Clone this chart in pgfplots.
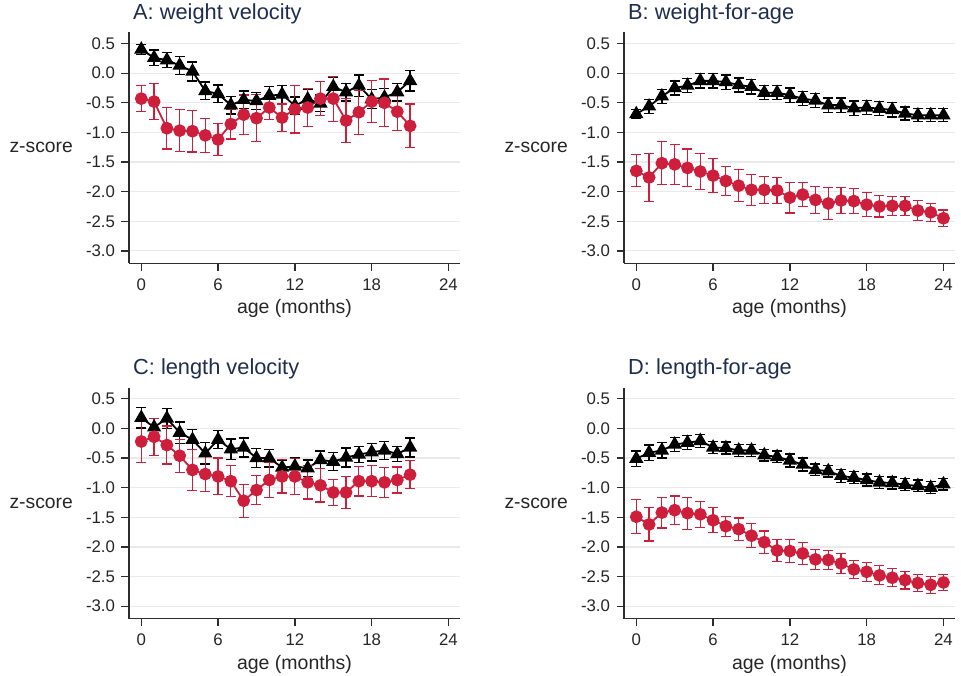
\documentclass[border=0pt]{standalone}
\usepackage{fontspec}
\setmainfont{Liberation Sans}
\usepackage{pgfplots}
\usepackage{pgfplotstable}
\pgfplotsset{compat=1.18}

\definecolor{titlenavy}{RGB}{30,45,80}
\definecolor{zred}{RGB}{205,30,60}
\definecolor{gridgray}{RGB}{234,234,234}
\definecolor{axisgray}{RGB}{45,45,45}

% columns: age, reference-group mean and CI half-width, study-group mean and CI half-width
\pgfplotstableread{
x bm be rm re
0 0.40 0.08 -0.43 0.22
1 0.26 0.13 -0.48 0.30
2 0.22 0.13 -0.93 0.35
3 0.13 0.15 -0.97 0.35
4 0.03 0.16 -0.98 0.35
5 -0.30 0.15 -1.05 0.29
6 -0.35 0.15 -1.12 0.27
7 -0.54 0.15 -0.86 0.25
8 -0.45 0.15 -0.70 0.33
9 -0.47 0.14 -0.76 0.40
10 -0.38 0.15 -0.58 0.20
11 -0.36 0.15 -0.75 0.23
12 -0.55 0.15 -0.61 0.40
13 -0.44 0.16 -0.58 0.32
14 -0.51 0.14 -0.43 0.29
15 -0.23 0.16 -0.43 0.38
16 -0.32 0.15 -0.80 0.37
17 -0.21 0.18 -0.66 0.37
18 -0.44 0.16 -0.48 0.35
19 -0.41 0.15 -0.50 0.40
20 -0.32 0.15 -0.65 0.32
21 -0.13 0.17 -0.89 0.37
}\tabA

\pgfplotstableread{
x bm be rm re
0 -0.69 0.08 -1.65 0.27
1 -0.56 0.12 -1.76 0.41
2 -0.39 0.12 -1.52 0.36
3 -0.25 0.12 -1.54 0.34
4 -0.21 0.12 -1.60 0.32
5 -0.13 0.12 -1.66 0.30
6 -0.13 0.12 -1.73 0.29
7 -0.15 0.12 -1.82 0.25
8 -0.20 0.12 -1.90 0.27
9 -0.23 0.12 -1.97 0.26
10 -0.33 0.12 -1.97 0.23
11 -0.33 0.12 -1.98 0.22
12 -0.37 0.12 -2.10 0.26
13 -0.43 0.12 -2.05 0.20
14 -0.46 0.12 -2.14 0.23
15 -0.54 0.12 -2.20 0.27
16 -0.54 0.12 -2.15 0.22
17 -0.59 0.12 -2.16 0.21
18 -0.58 0.12 -2.22 0.20
19 -0.60 0.12 -2.25 0.18
20 -0.62 0.12 -2.24 0.16
21 -0.68 0.11 -2.24 0.16
22 -0.71 0.11 -2.32 0.17
23 -0.71 0.11 -2.35 0.15
24 -0.71 0.11 -2.45 0.14
}\tabB

\pgfplotstableread{
x bm be rm re
0 0.18 0.17 -0.22 0.35
1 0.02 0.15 -0.14 0.31
2 0.17 0.17 -0.28 0.32
3 -0.07 0.18 -0.46 0.28
4 -0.19 0.17 -0.70 0.35
5 -0.42 0.18 -0.77 0.30
6 -0.19 0.15 -0.81 0.31
7 -0.35 0.17 -0.89 0.26
8 -0.32 0.16 -1.22 0.28
9 -0.50 0.16 -1.04 0.25
10 -0.50 0.15 -0.87 0.29
11 -0.66 0.13 -0.81 0.28
12 -0.64 0.14 -0.81 0.30
13 -0.67 0.14 -0.91 0.28
14 -0.53 0.15 -0.96 0.28
15 -0.56 0.15 -1.08 0.22
16 -0.49 0.16 -1.08 0.27
17 -0.44 0.14 -0.89 0.25
18 -0.40 0.15 -0.89 0.26
19 -0.37 0.15 -0.91 0.25
20 -0.43 0.13 -0.87 0.22
21 -0.32 0.16 -0.78 0.24
}\tabC

\pgfplotstableread{
x bm be rm re
0 -0.51 0.13 -1.49 0.29
1 -0.41 0.13 -1.62 0.28
2 -0.37 0.13 -1.42 0.26
3 -0.27 0.12 -1.38 0.24
4 -0.24 0.12 -1.43 0.27
5 -0.21 0.11 -1.45 0.22
6 -0.32 0.10 -1.55 0.21
7 -0.33 0.10 -1.65 0.17
8 -0.37 0.10 -1.70 0.19
9 -0.37 0.10 -1.81 0.20
10 -0.45 0.10 -1.92 0.19
11 -0.48 0.10 -2.06 0.18
12 -0.54 0.11 -2.07 0.19
13 -0.61 0.11 -2.11 0.18
14 -0.70 0.10 -2.21 0.17
15 -0.72 0.10 -2.22 0.16
16 -0.80 0.11 -2.28 0.17
17 -0.83 0.10 -2.38 0.15
18 -0.87 0.10 -2.42 0.16
19 -0.91 0.10 -2.48 0.16
20 -0.92 0.10 -2.52 0.15
21 -0.95 0.10 -2.56 0.15
22 -0.97 0.10 -2.61 0.14
23 -1.00 0.10 -2.64 0.14
24 -0.94 0.10 -2.60 0.14
}\tabD

\pgfplotsset{
  panel/.style={
    scale only axis, width=331pt, height=231pt, anchor=south west,
    xmin=-0.96, xmax=24.9, ymin=-3.21, ymax=0.69,
    axis x line*=bottom, axis y line*=left,
    axis line style={axisgray, line width=1.3pt},
    xtick={0,6,12,18,24},
    xticklabels={0,6,12,18,24},
    ytick={-3,-2.5,-2,-1.5,-1,-0.5,0,0.5},
    yticklabels={-3.0,-2.5,-2.0,-1.5,-1.0,-0.5,0.0,0.5},
    tick align=outside, major tick length=7.5pt,
    tick style={axisgray, line width=1.3pt},
    ymajorgrids, grid style={gridgray, line width=1.2pt},
    tick label style={font=\fontsize{16.8}{18}\selectfont, text=black!85},
    xticklabel style={yshift=-4pt},
    yticklabel style={xshift=-3pt},
    xlabel={age (months)},
    xlabel style={font=\fontsize{19.5}{21}\selectfont, text=black!85,
      at={(axis description cs:0.5,0)}, anchor=base, yshift=-50.5pt},
    title style={font=\fontsize{21.8}{24}\selectfont, text=titlenavy,
      at={(axis description cs:0,1)}, anchor=base west, inner sep=0pt,
      xshift=4pt, yshift=7pt},
    clip=false,
    after end axis/.code={
      \node[anchor=east, inner sep=0pt, text=black!85,
        font=\fontsize{19.3}{21}\selectfont]
        at ([xshift=-56pt]rel axis cs:0,0.5) {z-score};
    },
  },
  refgroup/.style={black, line width=1.8pt, mark=triangle*, mark size=6.5pt,
    mark options={solid, fill=black},
    error bars/.cd, y dir=both, y explicit,
    error bar style={black, line width=1.3pt},
    error mark options={rotate=90, black, line width=1.3pt, mark size=5pt}},
  studygroup/.style={zred, line width=1.8pt, mark=*, mark size=5.5pt,
    mark options={solid, fill=zred, draw=zred},
    error bars/.cd, y dir=both, y explicit,
    error bar style={zred, line width=1.2pt},
    error mark options={rotate=90, zred, line width=1.2pt, mark size=5pt}},
}

\begin{document}
\begin{tikzpicture}[x=1pt, y=1pt]
\path[use as bounding box] (0,0) rectangle (961,676);

\begin{axis}[panel, at={(129pt,412.7pt)}, title={A: weight velocity}]
  \addplot[refgroup] table[x=x, y=bm, y error=be] {\tabA};
  \addplot[studygroup] table[x=x, y=rm, y error=re] {\tabA};
\end{axis}

\begin{axis}[panel, at={(624pt,412.7pt)}, title={B: weight-for-age}]
  \addplot[refgroup] table[x=x, y=bm, y error=be] {\tabB};
  \addplot[studygroup] table[x=x, y=rm, y error=re] {\tabB};
\end{axis}

\begin{axis}[panel, at={(129pt,57.4pt)}, title={C: length velocity}]
  \addplot[refgroup] table[x=x, y=bm, y error=be] {\tabC};
  \addplot[studygroup] table[x=x, y=rm, y error=re] {\tabC};
\end{axis}

\begin{axis}[panel, at={(624pt,57.4pt)}, title={D: length-for-age}]
  \addplot[refgroup] table[x=x, y=bm, y error=be] {\tabD};
  \addplot[studygroup] table[x=x, y=rm, y error=re] {\tabD};
\end{axis}
\end{tikzpicture}
\end{document}
